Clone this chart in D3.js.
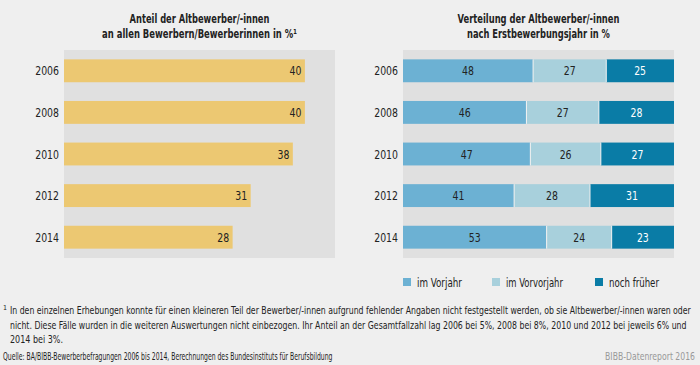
<!DOCTYPE html>
<html><head><meta charset="utf-8">
<script src="https://cdn.jsdelivr.net/npm/d3@7"></script>
<style>
html,body{margin:0;padding:0;background:#efefef;}
svg{display:block;}
text{font-family:"Liberation Sans Narrow","DejaVu Sans Condensed","Roboto",sans-serif;}
</style></head>
<body><svg id="c" width="700" height="365"></svg>
<script>
const years = ["2006","2008","2010","2012","2014"];
const shareValues = [40, 40, 38, 31, 28];
const seriesNames = ["im Vorjahr","im Vorvorjahr","noch früher"];
const vorjahr = [48, 46, 47, 41, 53];
const vorvorjahr = [27, 27, 26, 28, 24];
const frueher = [25, 28, 27, 31, 23];
const seriesColors = ["#6cb1d3","#a8d0dc","#0a7ca6"];
const labelColors = ["#222","#222","#fff"];

const svg = d3.select("#c");
svg.append("rect").attr("width",700).attr("height",365).attr("fill","#efefef");

// place text at (x,y) and squeeze horizontally to a target width
function placeFit(sel, x, y, target){
  sel.each(function(){
    const w = this.getComputedTextLength();
    const s = target / w;
    d3.select(this).attr("x",0).attr("y",0).attr("transform",`translate(${x},${y}) scale(${s},1)`);
  });
}
function placeScale(sel, xf, yf, s){
  sel.each(function(d,i){
    d3.select(this).attr("x",0).attr("y",0).attr("transform",`translate(${xf(d,i)},${yf(d,i)}) scale(${s},1)`);
  });
}
const NUM_SCALE = 0.8;

// titles
const titles = [
  {x:199.5, lines:[["Anteil der Altbewerber/-innen",140],["an allen Bewerbern/Bewerberinnen in %¹",195]]},
  {x:538.5, lines:[["Verteilung der Altbewerber/-innen",162],["nach Erstbewerbungsjahr in %",143]]}
];
titles.forEach(t=>{
  t.lines.forEach((l,i)=>{
    svg.append("text").attr("text-anchor","middle")
      .attr("font-size",13).attr("font-weight","bold").attr("fill","#222").text(l[0])
      .call(placeFit, t.x, 23+i*15, l[1]);
  });
});

const y = d3.scaleBand().domain(years).range([50,258]).paddingInner(0.45).paddingOuter(0.225);
const cy = (yr)=> y(yr)+y.bandwidth()/2+4.5;

// left panel
const xL = d3.scaleLinear().domain([0,45]).range([64,335]);
const gL = svg.append("g");
gL.append("rect").attr("x",xL(0)).attr("y",50).attr("width",xL(45)-xL(0)).attr("height",208).attr("fill","#e0e0e0");
gL.selectAll("rect.bar").data(shareValues).join("rect").attr("class","bar")
  .attr("x",xL(0)).attr("y",(d,i)=>y(years[i])).attr("width",d=>xL(d)-xL(0)).attr("height",y.bandwidth())
  .attr("fill","#ecc872");
gL.selectAll("text.val").data(shareValues).join("text").attr("class","val")
  .attr("text-anchor","end").attr("font-size",13).attr("fill","#222").text(d=>d)
  .call(placeScale, d=>xL(d)-3.5, (d,i)=>cy(years[i]), NUM_SCALE);

function yearAxis(x0){
  const a = svg.append("g").attr("transform",`translate(${x0},0)`).call(d3.axisLeft(y).tickSize(0).tickPadding(6));
  a.select(".domain").remove();
  a.selectAll(".tick text").attr("font-size",13).attr("fill","#222").attr("font-family",null)
    .attr("dy",null).attr("x",0).attr("y",0).attr("transform",`translate(-5,4.5) scale(${NUM_SCALE},1)`);
}
yearAxis(xL(0));

// right panel (each row shown as its share of the row total)
const xR = d3.scaleLinear().domain([0,1]).range([403,674]);
const gR = svg.append("g");
gR.append("rect").attr("x",xR(0)).attr("y",50).attr("width",xR(1)-xR(0)).attr("height",208).attr("fill","#e0e0e0");
const table = years.map((yr,i)=>({year:yr, "im Vorjahr":vorjahr[i], "im Vorvorjahr":vorvorjahr[i], "noch früher":frueher[i]}));
const stack = d3.stack().keys(seriesNames).offset(d3.stackOffsetExpand)(table);
stack.forEach((s,si)=>{
  const g = gR.append("g");
  g.selectAll("rect").data(s).join("rect")
    .attr("x",d=>xR(d[0])).attr("y",d=>y(d.data.year)).attr("width",d=>xR(d[1])-xR(d[0]))
    .attr("height",y.bandwidth()).attr("fill",seriesColors[si]);
  g.selectAll("text").data(s).join("text")
    .attr("text-anchor","middle").attr("font-size",13).attr("fill",labelColors[si]).text(d=>d.data[s.key])
    .call(placeScale, d=>(xR(d[0])+xR(d[1]))/2, d=>cy(d.data.year), NUM_SCALE);
});
// separators
stack.slice(1).forEach(s=>{
  gR.append("g").selectAll("line").data(s).join("line")
    .attr("x1",d=>xR(d[0])).attr("x2",d=>xR(d[0])).attr("y1",d=>y(d.data.year)).attr("y2",d=>y(d.data.year)+y.bandwidth())
    .attr("stroke","#f2f2f2").attr("stroke-width",1);
});
yearAxis(xR(0));

// legend
const legendX = [403,492,595];
const legendW = [45,57,50];
seriesNames.forEach((n,i)=>{
  svg.append("rect").attr("x",legendX[i]).attr("y",278).attr("width",8).attr("height",8).attr("fill",seriesColors[i]);
  svg.append("text").attr("font-size",12.5).attr("fill","#222").text(n)
    .call(placeFit, legendX[i]+14, 287, legendW[i]);
});

// footnotes
const foot = svg.append("g").attr("fill","#222");
foot.append("text").attr("x",3).attr("y",310).attr("font-size",7).text("1");
foot.append("text").attr("font-size",11)
  .text("In den einzelnen Erhebungen konnte für einen kleineren Teil der Bewerber/-innen aufgrund fehlender Angaben nicht festgestellt werden, ob sie Altbewerber/-innen waren oder").call(placeFit,10,314,682);
foot.append("text").attr("font-size",11)
  .text("nicht. Diese Fälle wurden in die weiteren Auswertungen nicht einbezogen. Ihr Anteil an der Gesamtfallzahl lag 2006 bei 5%, 2008 bei 8%, 2010 und 2012 bei jeweils 6% und").call(placeFit,10,329,677);
foot.append("text").attr("font-size",11)
  .text("2014 bei 3%.").call(placeFit,10,343,53);
foot.append("text").attr("font-size",11)
  .text("Quelle: BA/BIBB-Bewerberbefragungen 2006 bis 2014, Berechnungen des Bundesinstituts für Berufsbildung").call(placeFit,3,360,330);
svg.append("text").attr("font-size",11).attr("text-anchor","end").attr("fill","#999")
  .text("BIBB-Datenreport 2016").call(placeFit,695,360,90);
</script></body></html>
